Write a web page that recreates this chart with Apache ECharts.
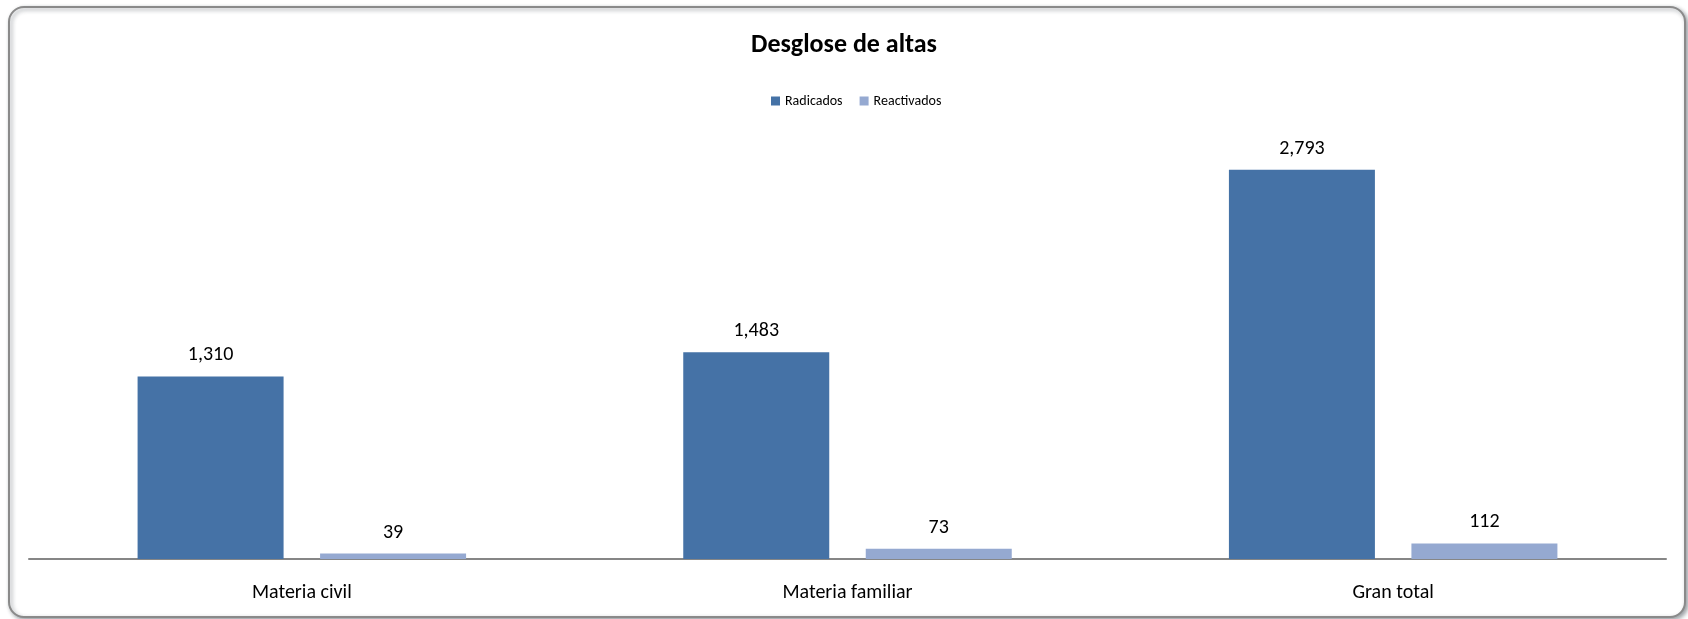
<!DOCTYPE html>
<html>
<head>
<meta charset="utf-8">
<script src="https://cdn.jsdelivr.net/npm/echarts@6/dist/echarts.min.js"></script>
<style>
  html, body { margin: 0; padding: 0; background: #fff; }
  #chart { width: 1688px; height: 619px; }
</style>
</head>
<body>
<div id="chart"></div>
<script>
// datos del grafico
const categorias = ['Materia civil', 'Materia familiar', 'Gran total'];
const radicados = [1310, 1483, 2793];
const reactivados = [39, 73, 112];

const fuente = 'Carlito, Calibri, Lato, "Noto Sans", sans-serif';

const chart = echarts.init(document.getElementById('chart'));

const etiqueta = {
  show: true,
  position: 'top',
  distance: 11,
  color: '#000',
  fontSize: 20,
  fontFamily: fuente,
  formatter: (p) => p.value.toLocaleString('en-US')
};

const option = {
  backgroundColor: '#fff',
  animation: false,
  graphic: [{
    type: 'rect',
    z: -10,
    shape: { x: 9, y: 7, width: 1676, height: 610, r: 15 },
    style: {
      fill: '#fff', stroke: '#8a8a8a', lineWidth: 2,
      shadowColor: 'rgba(40,50,60,0.45)', shadowBlur: 4, shadowOffsetX: 2, shadowOffsetY: 2
    }
  }],
  title: {
    text: 'Desglose de altas',
    left: 'center',
    top: 27,
    textStyle: { fontSize: 26, fontWeight: 'bold', color: '#000', fontFamily: fuente }
  },
  legend: {
    top: 89,
    left: 766,
    icon: 'rect',
    itemWidth: 9,
    itemHeight: 9,
    itemGap: 17,
    textStyle: { fontSize: 14, color: '#000', fontFamily: fuente },
    data: ['Radicados', 'Reactivados']
  },
  grid: { left: 29, right: 22, top: 141, bottom: 60 },
  xAxis: {
    type: 'category',
    data: categorias,
    axisLine: { lineStyle: { color: '#868686', width: 2 } },
    axisTick: { show: false },
    axisLabel: { fontSize: 20, color: '#000', margin: 24, fontFamily: fuente }
  },
  yAxis: {
    type: 'value',
    min: 0,
    max: 3000,
    show: false,
    splitLine: { show: false }
  },
  series: [
    {
      name: 'Radicados',
      type: 'bar',
      data: radicados,
      barWidth: 146,
      barGap: '25%',
      itemStyle: { color: '#4572a6' },
      label: etiqueta
    },
    {
      name: 'Reactivados',
      type: 'bar',
      data: reactivados,
      barWidth: 146,
      barGap: '25%',
      itemStyle: { color: '#95a9d1' },
      label: etiqueta
    }
  ]
};

chart.setOption(option);
</script>
</body>
</html>
